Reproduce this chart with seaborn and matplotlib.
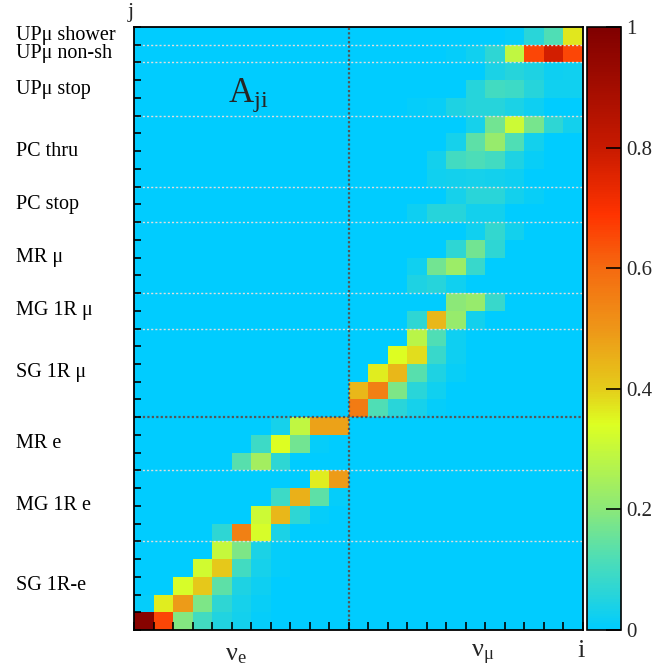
import numpy as np
import pandas as pd
import matplotlib
matplotlib.use("Agg")
import matplotlib.pyplot as plt
import seaborn as sns
from matplotlib.colors import LinearSegmentedColormap
from matplotlib.transforms import blended_transform_factory

# ---- binning -------------------------------------------------------------
n_nue_bins = 11          # true nu_e bins (i)
n_numu_bins = 12         # true nu_mu bins (i)
categories = ["SG 1R-e", "MG 1R e", "MR e", "SG 1R μ", "MG 1R μ", "MR μ",
              "PC stop", "PC thru", "UPμ stop", "UPμ non-sh", "UPμ shower"]
rows_per_category = [5, 4, 3, 5, 2, 4, 2, 4, 3, 1, 1]

# ---- A_ji rows, j counted upward: (first filled i bin, values) -----------
sg1r_e = [(0, [0.98, 0.66, 0.19, 0.10, 0.05, 0.03, 0.01]),
          (0, [0.01, 0.36, 0.49, 0.18, 0.07, 0.035, 0.015]),
          (2, [0.33, 0.41, 0.14, 0.045, 0.02]),
          (3, [0.32, 0.41, 0.10, 0.035, 0.01]),
          (4, [0.30, 0.18, 0.04, 0.01])]
mg1r_e = [(4, [0.07, 0.55, 0.33, 0.04]),
          (6, [0.31, 0.44, 0.07, 0.01]),
          (7, [0.09, 0.45, 0.14, 0.01]),
          (9, [0.36, 0.49])]
mr_e = [(5, [0.13, 0.24, 0.07]),
        (6, [0.09, 0.34, 0.165, 0.01]),
        (7, [0.035, 0.29, 0.48, 0.48])]
sg1r_mu = [(11, [0.56, 0.12, 0.06, 0.035, 0.01]),
           (11, [0.44, 0.55, 0.18, 0.06, 0.025]),
           (12, [0.36, 0.44, 0.13, 0.045, 0.015]),
           (13, [0.34, 0.38, 0.085, 0.02]),
           (14, [0.28, 0.12, 0.02])]
mg1r_mu = [(14, [0.07, 0.44, 0.22, 0.03]),
           (16, [0.20, 0.22, 0.085])]
mr_mu = [(14, [0.045, 0.055, 0.025]),
         (14, [0.025, 0.165, 0.23, 0.085]),
         (16, [0.07, 0.165, 0.07]),
         (17, [0.025, 0.075, 0.03])]
pc_stop = [(14, [0.02, 0.055, 0.055, 0.03, 0.03]),
           (16, [0.035, 0.06, 0.06, 0.03, 0.015])]
pc_thru = [(15, [0.025, 0.03, 0.035, 0.03, 0.02]),
           (15, [0.03, 0.10, 0.115, 0.10, 0.045, 0.015]),
           (16, [0.035, 0.14, 0.22, 0.12, 0.03]),
           (17, [0.035, 0.165, 0.31, 0.175, 0.07, 0.03])]
upmu_stop = [(14, [0.01, 0.015, 0.045, 0.055, 0.055, 0.04, 0.02]),
             (17, [0.055, 0.10, 0.09, 0.055, 0.025, 0.025]),
             (18, [0.04, 0.055, 0.045, 0.02, 0.025])]
upmu_nonsh = [(16, [0.01, 0.025, 0.07, 0.29, 0.66, 0.78, 0.66])]
upmu_shower = [(19, [0.01, 0.06, 0.12, 0.37])]

all_rows = (sg1r_e + mg1r_e + mr_e + sg1r_mu + mg1r_mu + mr_mu +
            pc_stop + pc_thru + upmu_stop + upmu_nonsh + upmu_shower)
n_i = n_nue_bins + n_numu_bins
n_j = sum(rows_per_category)
A = np.zeros((n_j, n_i))
for j, (start, vals) in enumerate(all_rows):
    A[j, start:start + len(vals)] = vals

# top row of the frame is the highest j
df = pd.DataFrame(A[::-1], index=np.arange(n_j)[::-1], columns=np.arange(n_i))

# ---- palette ---------------------------------------------------------------
stops = [(0.00, "#00CCFF"), (0.06, "#2AD5D8"), (0.12, "#50DEB4"),
         (0.20, "#8CE878"), (0.34, "#DDFF22"), (0.40, "#E5CC1A"),
         (0.50, "#EE9618"), (0.60, "#F56A10"), (0.69, "#FF3300"),
         (0.80, "#C81A00"), (1.00, "#800000")]
cmap = LinearSegmentedColormap.from_list("ajipal", stops)

sns.set_theme(style="white")
plt.rcParams["font.family"] = ["Liberation Serif", "DejaVu Serif"]
plt.rcParams["mathtext.fontset"] = "custom"
plt.rcParams["mathtext.rm"] = "Liberation Serif"
plt.rcParams["mathtext.it"] = "Liberation Serif:italic"

W, H = 672, 668
fig = plt.figure(figsize=(W / 100, H / 100), dpi=100)
L, R, T, B = 134, 583, 27, 630
ax = fig.add_axes([L / W, 1 - B / H, (R - L) / W, (B - T) / H])
cax = fig.add_axes([587 / W, 1 - B / H, 33.5 / W, (B - T) / H])

sns.heatmap(df, ax=ax, cbar_ax=cax, cmap=cmap, vmin=0, vmax=1,
            xticklabels=False, yticklabels=False, linewidths=0)

# frame and inward bin-edge ticks drawn over the cells
ax.set_axisbelow(False)
cax.set_axisbelow(False)
for s in ax.spines.values():
    s.set_visible(True)
    s.set_color("black")
    s.set_linewidth(1.3)
    s.set_zorder(5)
ax.set_xticks(np.arange(n_i + 1))
ax.set_yticks(np.arange(n_j + 1))
ax.set_xticklabels([])
ax.set_yticklabels([])
ax.tick_params(axis="x", which="both", direction="in", length=6, width=1.2,
               color="black", bottom=True, top=False)
ax.tick_params(axis="y", which="both", direction="in", length=5, width=1.2,
               color="black", left=True, right=False)
ax.set_xlabel("")
ax.set_ylabel("")

# category separators
edges = np.cumsum(rows_per_category)[:-1]
for e in edges:
    if e == 12:
        continue
    ax.axhline(n_j - e, color="#DDDDDD", lw=1.0, ls=(0, (1.5, 1.5)))
ax.axhline(n_j - 12, color="#555555", lw=1.6, ls=(0, (1, 1)))
ax.axvline(n_nue_bins, color="#555555", lw=1.6, ls=(0, (1, 1)))

# category labels
trans = blended_transform_factory(fig.transFigure, ax.transData)
start = 0
for name, n in zip(categories, rows_per_category):
    ax.text(16 / W, n_j - (start + n / 2), name, transform=trans,
            ha="left", va="center", fontsize=14.5, color="black")
    start += n

# colour bar
cbar = ax.collections[0].colorbar
cbar.outline.set_visible(True)
cbar.outline.set_linewidth(1.2)
cbar.outline.set_edgecolor("black")
cbar.set_ticks([0, 0.2, 0.4, 0.6, 0.8, 1.0])
cbar.set_ticklabels(["0", "0.2", "0.4", "0.6", "0.8", "1"])
cax.tick_params(direction="in", length=11, width=1.2, color="black",
                labelsize=15, pad=4, right=True, left=False)

# axis titles
fig.text(131 / W, 1 - 12 / H, "j", ha="center", va="center", fontsize=16)
fig.text(228 / W, 1 - 95 / H, r"A$_{\mathrm{ji}}$", ha="left", va="center",
         fontsize=25)
fig.text(236 / W, 1 - 655 / H, r"ν$_{\mathrm{e}}$", ha="center",
         va="center", fontsize=19)
fig.text(483 / W, 1 - 655 / H, r"ν$_{\mathrm{μ}}$", ha="center",
         va="center", fontsize=19)
fig.text(581 / W, 1 - 651 / H, "i", ha="center", va="center", fontsize=19)

fig.savefig("out.png", dpi=100)
